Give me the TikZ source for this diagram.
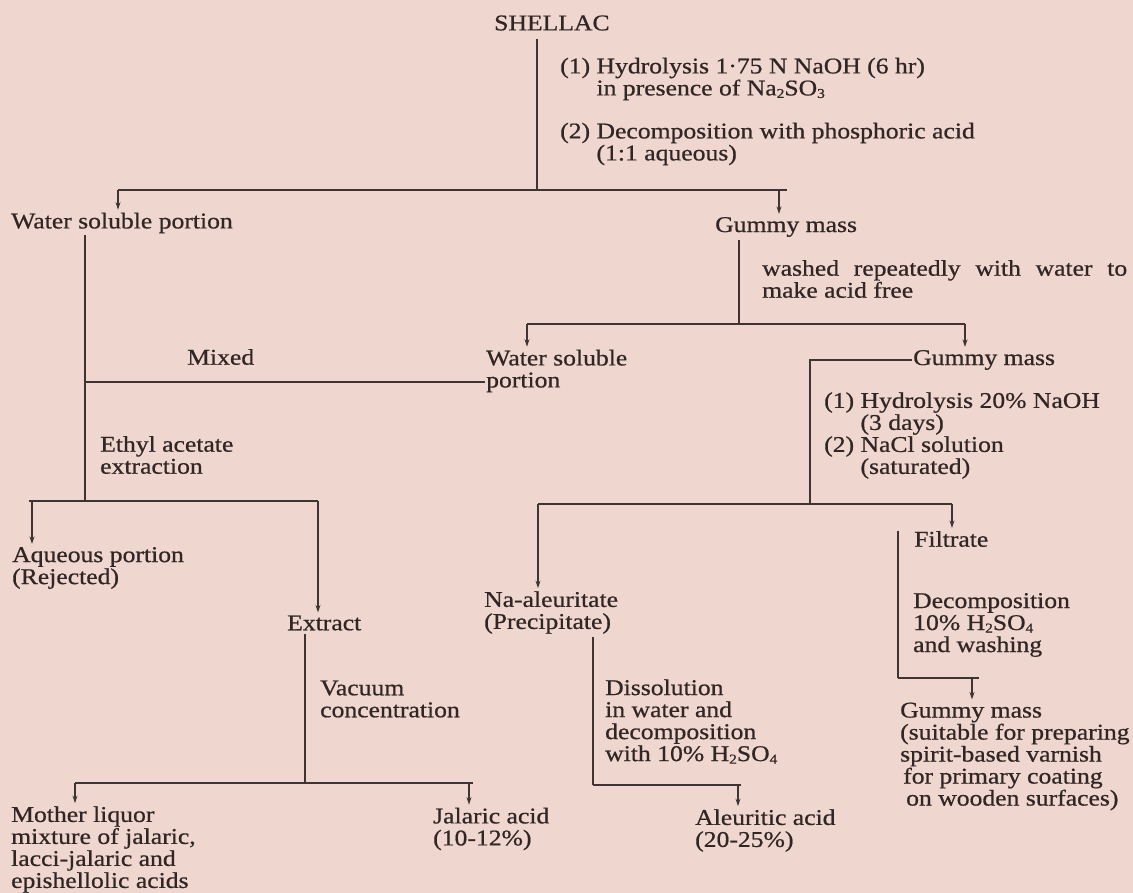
\documentclass[tikz,border=0pt]{standalone}
\usepackage{fontspec}
\setmainfont{Liberation Serif}[FakeStretch=1.14,FakeBold=0.7]
\usetikzlibrary{arrows.meta}
\definecolor{bg}{RGB}{239,214,206}
\definecolor{ink}{RGB}{48,38,38}
\definecolor{lnc}{RGB}{62,52,52}
\newcommand\lsub[1]{\raisebox{-2.5pt}{\fontsize{13.5}{13.5}\selectfont #1}}
\begin{document}
\begin{tikzpicture}[x=1pt,y=-1pt,
  txt/.style={font=\fontsize{22.5}{22}\selectfont, text=ink, inner sep=0pt, anchor=west, align=left},
  ln/.style={draw=lnc, line width=1.1pt},
  arr/.style={ln, -{Stealth[length=7.5pt,width=5pt]}, shorten >=3pt}]
\fill[bg] (0,0) rectangle (1133,893);
\useasboundingbox (0,0) rectangle (1133,893);
% nodes
\node[txt] (shellac) at (494,23) {SHELLAC};
\node[txt] (n1) at (560,79) {(1) Hydrolysis 1·75 N NaOH (6 hr)\\\hphantom{(1) }in presence of Na\lsub{2}SO\lsub{3}};
\node[txt] (n2) at (560,144) {(2) Decomposition with phosphoric acid\\\hphantom{(2) }(1:1 aqueous)};
\node[txt] (wsp1) at (11,223) {Water soluble portion};
\node[txt] (gm1) at (715,227) {Gummy mass};
\node[txt] (wash) at (762,279) {\hbox to 365pt{washed\hfill repeatedly\hfill with\hfill water\hfill to}\\make acid free};
\node[txt] (mixed) at (187,357) {Mixed};
\node[txt] (wsp2) at (486,371) {Water soluble\\portion};
\node[txt] (gm2) at (913,360) {Gummy mass};
\node[txt] (hyd2) at (824,435.5) {(1) Hydrolysis 20\% NaOH\\\hphantom{(1) }(3 days)\\(2) NaCl solution\\\hphantom{(2) }(saturated)};
\node[txt] (ethyl) at (100,455) {Ethyl acetate\\extraction};
\node[txt] (filt) at (914,539) {Filtrate};
\node[txt] (aq) at (12,568) {Aqueous portion\\(Rejected)};
\node[txt] (extract) at (287,623) {Extract};
\node[txt] (naal) at (484,612.5) {Na-aleuritate\\(Precipitate)};
\node[txt] (decomp) at (913,625) {Decomposition\\10\% H\lsub{2}SO\lsub{4}\\and washing};
\node[txt] (vac) at (320,699) {Vacuum\\concentration};
\node[txt] (dissol) at (605,721.5) {Dissolution\\in water and\\decomposition\\with 10\% H\lsub{2}SO\lsub{4}};
\node[txt] (gm3) at (900,756.5) {Gummy mass\\(suitable for preparing\\spirit-based varnish\\\hspace*{3pt}for primary coating\\\hspace*{6pt}on wooden surfaces)};
\node[txt] (mother) at (11,849.5) {Mother liquor\\mixture of jalaric,\\lacci-jalaric and\\epishellolic acids};
\node[txt] (jal) at (433,829) {Jalaric acid\\(10-12\%)};
\node[txt] (aleu) at (695,830.5) {Aleuritic acid\\(20-25\%)};
% connectors
\coordinate (j1) at (537,190);
\coordinate (b1L) at (118,190); \coordinate (b1R) at (787,190); \coordinate (a1R) at (779,190);
\draw[ln, shorten <=8pt] (shellac.south -| j1) -- (j1);
\draw[ln] (b1L) -- (b1R);
\draw[arr] (b1L) -- (b1L |- wsp1.north);
\draw[arr] (a1R) -- (a1R |- gm1.north);
\coordinate (v2) at (85,501);
\draw[ln, shorten <=2pt] (wsp1.south -| v2) -- (v2);
\coordinate (mix) at (85,382);
\draw[ln, shorten >=1pt] (mix) -- (mix -| wsp2.west);
\coordinate (b2L) at (29,501); \coordinate (b2R) at (318,501); \coordinate (a2L) at (32,501);
\draw[ln] (b2L) -- (b2R);
\draw[arr] (a2L) -- (a2L |- aq.north);
\draw[arr] (b2R) -- (b2R |- extract.north);
\coordinate (v3) at (739,324);
\draw[ln, shorten <=3pt] (gm1.south -| v3) -- (v3);
\coordinate (b3L) at (527,324); \coordinate (b3R) at (965,324);
\draw[ln] (b3L) -- (b3R);
\draw[arr] (b3L) -- (b3L |- wsp2.north);
\draw[arr] (b3R) -- (b3R |- gm2.north);
\coordinate (v4) at (810,504);
\draw[ln, shorten <=1pt] (gm2.west) -- (gm2.west -| v4) -- (v4);
\coordinate (b4L) at (538,504); \coordinate (b4R) at (952,504);
\draw[ln] (b4L) -- (b4R);
\draw[arr] (b4L) -- (b4L |- naal.north);
\draw[arr] (b4R) -- (b4R |- filt.north);
\coordinate (v5) at (898,678);
\draw[ln] (filt.north -| v5) -- (v5);
\coordinate (b5R) at (979,678); \coordinate (a5) at (972,678);
\draw[ln] (v5) -- (b5R);
\draw[arr] (a5) -- (a5 |- gm3.north);
\coordinate (v6) at (305,783);
\draw[ln, shorten <=3pt] (extract.south -| v6) -- (v6);
\coordinate (b6L) at (75,783); \coordinate (b6R) at (473,783); \coordinate (a6R) at (469,783);
\draw[ln] (b6L) -- (b6R);
\draw[arr] (b6L) -- (b6L |- mother.north);
\draw[arr] (a6R) -- (a6R |- jal.north);
\coordinate (v7) at (593,785);
\draw[ln, shorten <=3pt] (naal.south -| v7) -- (v7);
\coordinate (b7R) at (741,785); \coordinate (a7) at (738,785);
\draw[ln] (v7) -- (b7R);
\draw[arr] (a7) -- (a7 |- aleu.north);
\end{tikzpicture}
\end{document}
